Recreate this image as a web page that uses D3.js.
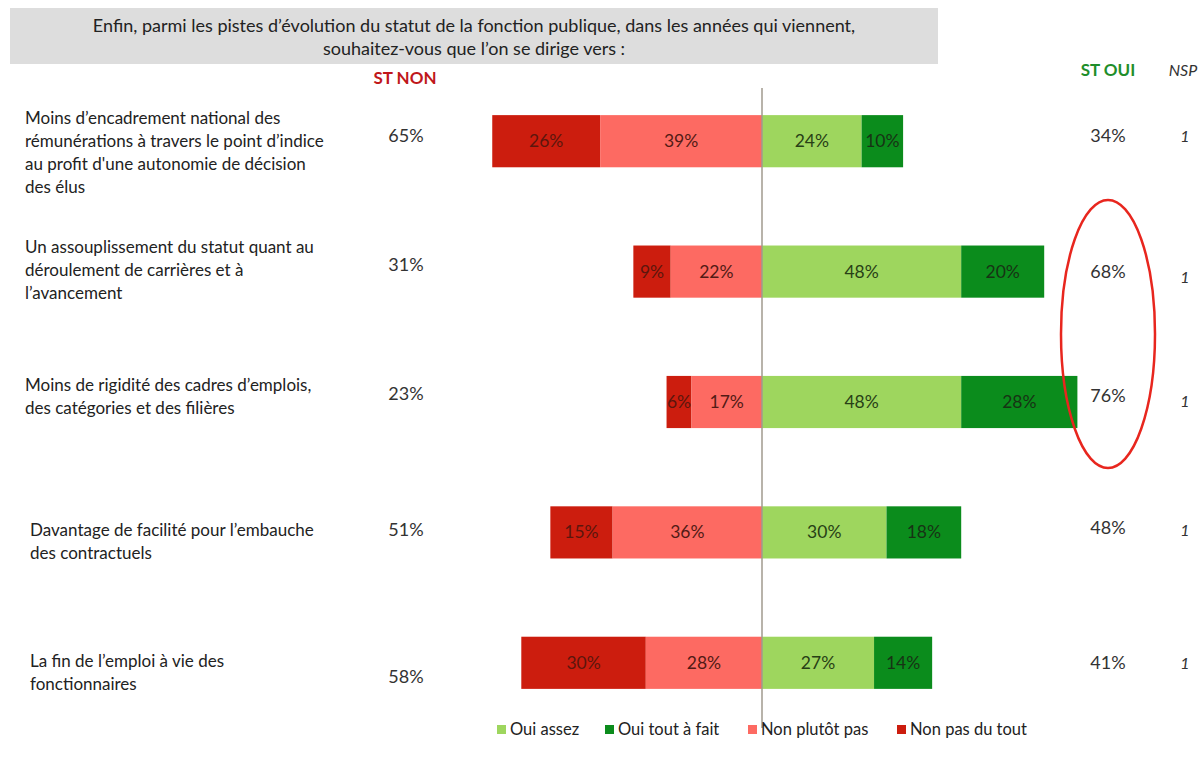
<!DOCTYPE html>
<html>
<head>
<meta charset="utf-8">
<script src="https://cdn.jsdelivr.net/npm/d3@7/dist/d3.min.js"></script>
<style>
  body { margin: 0; background: #fff; }
  text { font-family: Lato, "Open Sans", sans-serif; }
</style>
</head>
<body>
<div id="chart"></div>
<script>
var items = [
  ["Moins d\u2019encadrement national des", "rémunérations à travers le point d\u2019indice", "au profit d'une autonomie de décision", "des élus"],
  ["Un assouplissement du statut quant au", "déroulement de carrières et à", "l\u2019avancement"],
  ["Moins de rigidité des cadres d\u2019emplois,", "des catégories et des filières"],
  ["Davantage de facilité pour l\u2019embauche", "des contractuels"],
  ["La fin de l\u2019emploi à vie des", "fonctionnaires"]
];
var nonPasDuTout = [26, 9, 6, 15, 30];
var nonPlutotPas = [39, 22, 17, 36, 28];
var ouiAssez     = [24, 48, 48, 30, 27];
var ouiToutAFait = [10, 20, 28, 18, 14];
var stNon = [65, 31, 23, 51, 58];
var stOui = [34, 68, 76, 48, 41];
var nsp   = [1, 1, 1, 1, 1];
var legendLabels = ["Oui assez", "Oui tout à fait", "Non plutôt pas", "Non pas du tout"];

var colors = {
  ouiAssez: "#9ed65e", ouiTout: "#0b8c1c",
  nonPlutot: "#fd6a62", nonTout: "#cc1d0e"
};
var textCol = {
  ouiAssez: "#283f16", ouiTout: "#173314",
  nonPlutot: "#521a15", nonTout: "#5c160d"
};

var width = 1202, height = 762;
var svg = d3.select("#chart").append("svg")
  .attr("width", width).attr("height", height);

// header
svg.append("rect").attr("x", 10).attr("y", 8).attr("width", 928).attr("height", 56).attr("fill", "#dddddd");
svg.append("text").attr("x", 474).attr("y", 32).attr("text-anchor", "middle")
  .attr("font-size", 18).attr("fill", "#222")
  .text("Enfin, parmi les pistes d\u2019évolution du statut de la fonction publique, dans les années qui viennent,");
svg.append("text").attr("x", 474).attr("y", 55).attr("text-anchor", "middle")
  .attr("font-size", 18).attr("fill", "#222")
  .text("souhaitez-vous que l\u2019on se dirige vers :");

svg.append("text").attr("x", 405).attr("y", 84).attr("text-anchor", "middle")
  .attr("font-size", 17).attr("font-weight", "bold").attr("fill", "#c0171b").text("ST NON");
svg.append("text").attr("x", 1108).attr("y", 76).attr("text-anchor", "middle")
  .attr("font-size", 17).attr("font-weight", "bold").attr("fill", "#1f8e2a").text("ST OUI");
svg.append("text").attr("x", 1183).attr("y", 76).attr("text-anchor", "middle")
  .attr("font-size", 16).attr("font-style", "italic").attr("fill", "#333").text("NSP");

// scales
var x = d3.scaleLinear().domain([-70, 80]).range([762 - 70 * 4.15, 762 + 80 * 4.15]);
var y = d3.scaleBand().domain(d3.range(items.length)).range([76, 728]).paddingInner(0.6).paddingOuter(0.3);

var rows = svg.selectAll("g.row").data(items).enter().append("g").attr("class", "row");

rows.each(function(d, i) {
  var g = d3.select(this);
  var y0 = y(i), bh = y.bandwidth(), cy = y0 + bh / 2;
  var segs = [
    { a: -(nonPasDuTout[i] + nonPlutotPas[i]), b: -nonPlutotPas[i], v: nonPasDuTout[i], k: "nonTout" },
    { a: -nonPlutotPas[i], b: 0, v: nonPlutotPas[i], k: "nonPlutot" },
    { a: 0, b: ouiAssez[i], v: ouiAssez[i], k: "ouiAssez" },
    { a: ouiAssez[i], b: ouiAssez[i] + ouiToutAFait[i], v: ouiToutAFait[i], k: "ouiTout" }
  ];
  g.selectAll("rect").data(segs).enter().append("rect")
    .attr("x", function(s) { return x(s.a); })
    .attr("y", y0)
    .attr("width", function(s) { return x(s.b) - x(s.a); })
    .attr("height", bh)
    .attr("fill", function(s) { return colors[s.k]; });
  g.selectAll("text.val").data(segs).enter().append("text").attr("class", "val")
    .attr("x", function(s) { return (x(s.a) + x(s.b)) / 2; })
    .attr("y", cy + 6)
    .attr("text-anchor", "middle")
    .attr("font-size", 17.5)
    .attr("fill", function(s) { return textCol[s.k]; })
    .text(function(s) { return s.v + "%"; });
});

// category labels
var labelX = [25, 25, 25, 30, 30];
var labelTop = [124, 253, 391, 536, 667];
rows.append("text")
  .attr("font-size", 17).attr("fill", "#222")
  .each(function(d, i) {
    d3.select(this).selectAll("tspan").data(d).enter().append("tspan")
      .attr("x", labelX[i])
      .attr("y", function(l, j) { return labelTop[i] + j * 23; })
      .text(function(l) { return l; });
  });

var nonY = [142, 271, 400, 536, 683];
var ouiY = [142, 278, 402, 534, 669];
var nspY = [142, 283, 407, 536, 669];
rows.append("text").attr("x", 406).attr("y", function(d, i) { return nonY[i]; })
  .attr("text-anchor", "middle").attr("font-size", 18).attr("fill", "#333")
  .text(function(d, i) { return stNon[i] + "%"; });
rows.append("text").attr("x", 1108).attr("y", function(d, i) { return ouiY[i]; })
  .attr("text-anchor", "middle").attr("font-size", 18).attr("fill", "#333")
  .text(function(d, i) { return stOui[i] + "%"; });
rows.append("text").attr("x", 1185).attr("y", function(d, i) { return nspY[i]; })
  .attr("text-anchor", "middle").attr("font-size", 16).attr("font-style", "italic").attr("fill", "#333")
  .text(function(d, i) { return nsp[i]; });

// zero line
svg.append("line").attr("x1", x(0)).attr("x2", x(0)).attr("y1", 88).attr("y2", 728)
  .attr("stroke", "#a09a8e").attr("stroke-width", 1.5);

// highlight ellipse
svg.append("ellipse").attr("cx", 1108).attr("cy", 334).attr("rx", 47).attr("ry", 134)
  .attr("fill", "none").attr("stroke", "#e8261e").attr("stroke-width", 2.5);

// legend
var legX = [497, 605, 748, 897];
var legCol = [colors.ouiAssez, colors.ouiTout, colors.nonPlutot, colors.nonTout];
var leg = svg.selectAll("g.leg").data(legendLabels).enter().append("g").attr("class", "leg");
leg.append("rect").attr("x", function(d, i) { return legX[i]; }).attr("y", 725)
  .attr("width", 9).attr("height", 9).attr("fill", function(d, i) { return legCol[i]; });
leg.append("text").attr("x", function(d, i) { return legX[i] + 13; }).attr("y", 735)
  .attr("font-size", 16.5).attr("fill", "#222").text(function(d) { return d; });
</script>
</body>
</html>
